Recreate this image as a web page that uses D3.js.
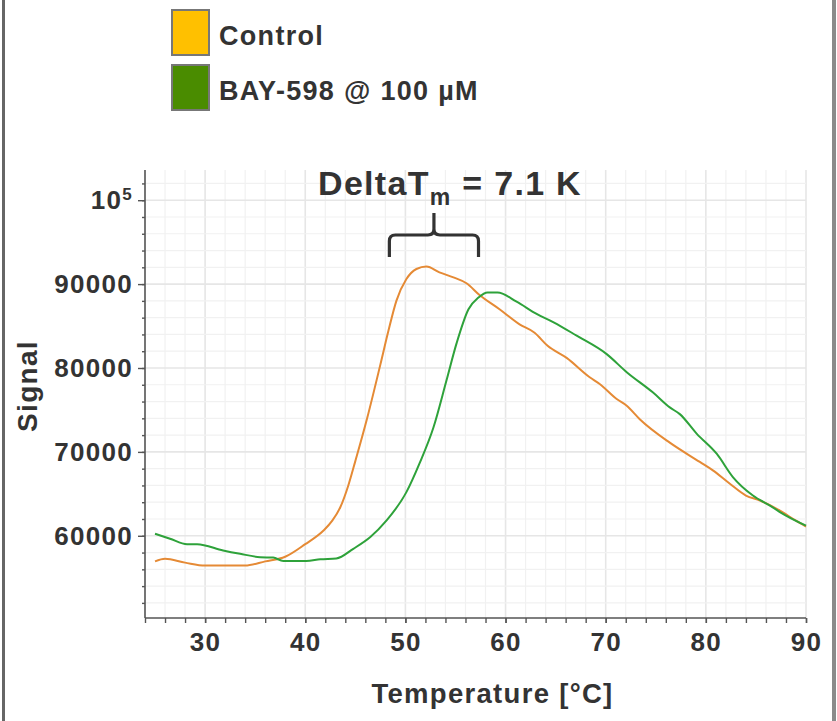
<!DOCTYPE html>
<html>
<head>
<meta charset="utf-8">
<script src="https://cdn.jsdelivr.net/npm/d3@7"></script>
<style>
  html, body { margin: 0; padding: 0; background: #fff; }
  svg { display: block; font-family: "Liberation Sans", Arial, sans-serif; }
  svg text { letter-spacing: 1.3px; }
</style>
</head>
<body>
<svg id="chart" width="837" height="721"></svg>
<script>
// Thermal shift melt curves: fluorescence signal vs. temperature
const controlTemp = [25, 26, 28, 30, 32, 34, 36, 38, 40, 41.8, 42.7, 43.5, 44.3, 45, 46.2, 47.5, 48.3, 49.1, 50.1, 51.1, 52.1, 53.4, 54.8, 56.1, 57.4, 59.4, 61.4, 62.9, 64.2, 66.1, 68.4, 69.4, 71.1, 72.1, 73.4, 76.4, 79.4, 80.7, 82.4, 84, 85.4, 87.4, 89, 90];
const controlSignal = [56950, 57250, 56800, 56450, 56450, 56450, 56950, 57500, 59000, 60600, 61800, 63400, 66000, 68900, 74100, 80400, 84400, 88000, 90600, 91800, 92100, 91400, 90800, 90100, 88700, 87000, 85200, 84200, 82650, 81200, 78900, 78100, 76300, 75500, 73900, 71100, 68800, 67800, 66200, 64800, 64200, 63000, 61800, 61100];

const bayTemp = [25, 26.5, 28.2, 29.2, 31.8, 33.5, 35.5, 36.8, 37.8, 40.1, 41.5, 43.1, 44.8, 46.5, 48.1, 50.1, 51.4, 52.8, 54.1, 55.1, 56.3, 57.3, 58.2, 59.2, 61.1, 63.1, 64.8, 67.1, 70.1, 72.1, 74.7, 76.4, 77.4, 79.1, 81.1, 82.7, 84.7, 86.4, 88, 90];
const baySignal = [60250, 59650, 59000, 59000, 58250, 57850, 57450, 57400, 57000, 57000, 57200, 57300, 58450, 59850, 61800, 65200, 68600, 72900, 78500, 82900, 87000, 88400, 89000, 89000, 87900, 86450, 85450, 83850, 81650, 79500, 77100, 75300, 74500, 72150, 69750, 67000, 64800, 63600, 62400, 61200];

const seriesNames = ["Control", "BAY-598 @ 100 µM"];
const lineColors = ["#e58a35", "#2ea23a"];
const legendColors = ["#ffc000", "#4a8c00"];

const xTicks = [30, 40, 50, 60, 70, 80, 90];
const yTicks = [60000, 70000, 80000, 90000, 100000];

// Bracket spanning the two melting transitions
const bracketTemps = [48.4, 57.3];
const deltaTm = 7.1;

const svg = d3.select("#chart");
const W = 837, H = 721;
const plot = { left: 145, right: 806, top: 170, bottom: 618 };

const x = d3.scaleLinear().domain([24, 90]).range([plot.left, plot.right]);
const y = d3.scaleLinear().domain([50200, 103600]).range([plot.bottom, plot.top]);

const textColor = "#333";

// Outer frame sides
svg.append("rect").attr("x", 2).attr("y", 0).attr("width", 3).attr("height", H).attr("fill", "#666");
svg.append("rect").attr("x", 832).attr("y", 0).attr("width", 4).attr("height", H).attr("fill", "#8a8a8a");

// Grid
const grid = svg.append("g");
const xMinor = d3.range(24, 90.01, 2);
const yMinor = d3.range(52000, 103000, 2000);
grid.selectAll("line.vx").data(xMinor).join("line")
  .attr("x1", d => x(d)).attr("x2", d => x(d))
  .attr("y1", plot.top).attr("y2", plot.bottom)
  .attr("stroke", d => d % 10 === 0 ? "#e6e6e6" : "#f1f1f1")
  .attr("stroke-width", d => d % 10 === 0 ? 1.6 : 1.2);
grid.selectAll("line.hy").data(yMinor).join("line")
  .attr("x1", plot.left).attr("x2", plot.right)
  .attr("y1", d => y(d)).attr("y2", d => y(d))
  .attr("stroke", d => d % 10000 === 0 ? "#e6e6e6" : "#f1f1f1")
  .attr("stroke-width", d => d % 10000 === 0 ? 1.6 : 1.2);

// Curves
const line = d3.line().x(d => x(d[0])).y(d => y(d[1])).curve(d3.curveMonotoneX);
const series = [
  d3.zip(controlTemp, controlSignal),
  d3.zip(bayTemp, baySignal)
];
svg.append("g").selectAll("path").data(series).join("path")
  .attr("d", line)
  .attr("fill", "none")
  .attr("stroke", (d, i) => lineColors[i])
  .attr("stroke-width", 2);

// Axes
const axisColor = "#555";
const xMinorAxis = svg.append("g")
  .attr("transform", `translate(0,${plot.bottom})`)
  .call(d3.axisBottom(x).tickValues(xMinor).tickSize(5).tickFormat(""));
const xAxis = svg.append("g")
  .attr("transform", `translate(0,${plot.bottom})`)
  .call(d3.axisBottom(x).tickValues(xTicks).tickSize(5).tickPadding(10).tickSizeOuter(0));
xAxis.selectAll("text")
  .attr("fill", textColor).attr("font-size", 26).attr("font-weight", "bold")
  .attr("font-family", "Liberation Sans, Arial, sans-serif");

const yMinorAxis = svg.append("g")
  .attr("transform", `translate(${plot.left},0)`)
  .call(d3.axisLeft(y).tickValues(yMinor).tickSize(3).tickFormat(""));
const yAxis = svg.append("g")
  .attr("transform", `translate(${plot.left},0)`)
  .call(d3.axisLeft(y).tickValues(yTicks).tickSize(7).tickPadding(5).tickSizeOuter(0)
    .tickFormat(d => d === 100000 ? "" : String(d)));
yAxis.selectAll("text")
  .attr("fill", textColor).attr("font-size", 26).attr("font-weight", "bold")
  .attr("font-family", "Liberation Sans, Arial, sans-serif");
// 10^5 label with superscript
const sup = yAxis.selectAll(".tick").filter(d => d === 100000).select("text");
sup.append("tspan").text("10");
sup.append("tspan").attr("font-size", 17).attr("dy", "-0.55em").text("5");

[xMinorAxis, xAxis, yMinorAxis, yAxis].forEach(g => {
  g.select(".domain").attr("stroke", axisColor).attr("stroke-width", 1.6);
  g.selectAll(".tick line").attr("stroke", axisColor).attr("stroke-width", 1.4);
});
xMinorAxis.select(".domain").attr("d", `M${plot.left},0H${plot.right}`);
yMinorAxis.select(".domain").attr("d", `M0,${plot.top}V${plot.bottom}`);
xAxis.select(".domain").remove();
yAxis.select(".domain").remove();

// Axis titles
svg.append("text")
  .attr("x", (plot.left + plot.right) / 2 + 17).attr("y", 703)
  .attr("text-anchor", "middle").attr("fill", textColor)
  .attr("font-size", 27.5).attr("font-weight", "bold")
  .text("Temperature [°C]");
svg.append("text")
  .attr("transform", "translate(37,386) rotate(-90)")
  .attr("text-anchor", "middle").attr("fill", textColor)
  .attr("font-size", 28).attr("font-weight", "bold")
  .text("Signal");

// Title with subscript
const title = svg.append("text")
  .attr("x", 450).attr("y", 195)
  .attr("text-anchor", "middle").attr("fill", textColor)
  .attr("font-size", 34).attr("font-weight", "bold");
title.append("tspan").text("DeltaT");
title.append("tspan").attr("font-size", 23).attr("dy", 10).text("m");
title.append("tspan").attr("dy", -10).text(" = " + deltaTm + " K");

// Curly bracket
const bx0 = x(bracketTemps[0]), bx1 = x(bracketTemps[1]);
const bm = (bx0 + bx1) / 2, byTop = 213, byBar = 235, byEnd = 257, r = 6;
svg.append("path")
  .attr("d", `M${bx0},${byEnd} V${byBar + r} Q${bx0},${byBar} ${bx0 + r},${byBar} H${bm - r} Q${bm},${byBar} ${bm},${byBar - r} V${byTop}` +
             ` M${bm},${byBar - r} Q${bm},${byBar} ${bm + r},${byBar} H${bx1 - r} Q${bx1},${byBar} ${bx1},${byBar + r} V${byEnd}`)
  .attr("fill", "none").attr("stroke", textColor).attr("stroke-width", 3.2);

// Legend
const legend = svg.append("g");
seriesNames.forEach((name, i) => {
  const ly = 10 + i * 55;
  legend.append("rect")
    .attr("x", 172).attr("y", ly).attr("width", 37).attr("height", 45)
    .attr("fill", legendColors[i]).attr("stroke", "#777").attr("stroke-width", 2);
  legend.append("text")
    .attr("x", 219).attr("y", ly + 35)
    .attr("fill", textColor).attr("font-size", 27).attr("font-weight", "bold")
    .text(name);
});
</script>
</body>
</html>
